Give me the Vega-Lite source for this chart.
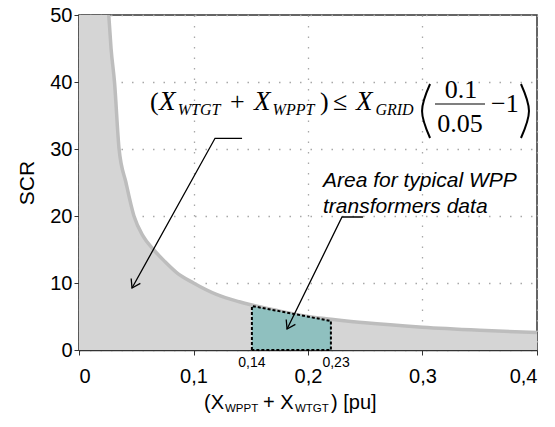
{
  "$schema": "https://vega.github.io/schema/vega-lite/v6.json",
  "width": 458,
  "height": 335,
  "autosize": "none",
  "padding": {"left": 79, "top": 15, "right": 18, "bottom": 77},
  "background": "white",
  "config": {
    "view": {"stroke": "#333", "strokeWidth": 1.5},
    "axis": {
      "labelFont": "Liberation Sans", "labelFontSize": 20, "labelColor": "#000",
      "domainColor": "#333", "domainWidth": 1.5, "tickColor": "#333", "tickSize": 5,
      "gridColor": "#a8a8a8", "gridDash": [1.5, 9], "gridWidth": 1.3, "zindex": 1,
      "titleFont": "Liberation Sans", "titleFontWeight": "normal", "titleColor": "#000"
    }
  },
  "datasets": {
    "curve": [
      {"x": 0, "scr": 50}, {"x": 0.026, "scr": 50}, {"x": 0.028, "scr": 45}, {"x": 0.031, "scr": 40},
      {"x": 0.035, "scr": 30}, {"x": 0.041, "scr": 25}, {"x": 0.048, "scr": 20}, {"x": 0.056, "scr": 17},
      {"x": 0.065, "scr": 15}, {"x": 0.075, "scr": 13.2}, {"x": 0.085, "scr": 11.6}, {"x": 0.1, "scr": 10},
      {"x": 0.12, "scr": 8.3}, {"x": 0.14, "scr": 7.2}, {"x": 0.15, "scr": 6.75}, {"x": 0.17, "scr": 6.0},
      {"x": 0.2, "scr": 5.0}, {"x": 0.22, "scr": 4.6}, {"x": 0.25, "scr": 4.05}, {"x": 0.3, "scr": 3.4},
      {"x": 0.35, "scr": 2.95}, {"x": 0.4, "scr": 2.6}
    ],
    "box": [{"x": 0.151, "scr": 6.57}, {"x": 0.22, "scr": 4.33}],
    "boxEdge": [
      {"x": 0.151, "scr": 0, "o": 1}, {"x": 0.151, "scr": 6.57, "o": 2}, {"x": 0.22, "scr": 4.33, "o": 3},
      {"x": 0.22, "scr": 0, "o": 4}, {"x": 0.151, "scr": 0, "o": 5}
    ],
    "arrows": [
      {"id": "a", "o": 1, "x": 0.1424, "scr": 31.6}, {"id": "a", "o": 2, "x": 0.1188, "scr": 31.6}, {"id": "a", "o": 3, "x": 0.0463, "scr": 9.25},
      {"id": "b", "o": 1, "x": 0.248, "scr": 19.85}, {"id": "b", "o": 2, "x": 0.2297, "scr": 19.85}, {"id": "b", "o": 3, "x": 0.1817, "scr": 3.13}
    ],
    "heads": [{"x": 0.0463, "scr": 9.25}, {"x": 0.1817, "scr": 3.13}],
    "eqRoman": [
      {"x": 0.062, "scr": 35.82, "t": "("}, {"x": 0.1319, "scr": 35.82, "t": "+"},
      {"x": 0.2105, "scr": 35.82, "t": ")"}, {"x": 0.2218, "scr": 35.82, "t": "≤"},
      {"x": 0.3598, "scr": 35.5, "t": "−1"}
    ],
    "eqX": [{"x": 0.0699, "scr": 35.82, "t": "X"}, {"x": 0.1528, "scr": 35.82, "t": "X"}, {"x": 0.2419, "scr": 35.82, "t": "X"}],
    "eqSub": [{"x": 0.0862, "scr": 35.07, "t": "WTGT"}, {"x": 0.1691, "scr": 35.07, "t": "WPPT"}, {"x": 0.2589, "scr": 35.07, "t": "GRID"}],
    "eqFrac": [{"x": 0.3336, "scr": 37.61, "t": "0.1"}, {"x": 0.3328, "scr": 32.54, "t": "0.05"}],
    "parens": [
      {"id": "l", "o": 1, "x": 0.3066, "scr": 39.7}, {"id": "l", "o": 2, "x": 0.2996, "scr": 35.67}, {"id": "l", "o": 3, "x": 0.3066, "scr": 31.64},
      {"id": "r", "o": 1, "x": 0.386, "scr": 39.7}, {"id": "r", "o": 2, "x": 0.393, "scr": 35.67}, {"id": "r", "o": 3, "x": 0.386, "scr": 31.64}
    ],
    "fracLine": [{"x": 0.3109, "x2": 0.3546, "scr": 36.72}],
    "xtMain": [{"x": 0.1092, "scr": -8.81, "t": "(X"}, {"x": 0.1607, "scr": -8.81, "t": "+ X"}, {"x": 0.2201, "scr": -8.81, "t": ") [pu]"}],
    "xtSub": [{"x": 0.1275, "scr": -9.25, "t": "WPPT"}, {"x": 0.1886, "scr": -9.25, "t": "WTGT"}],
    "boxLabels": [{"x": 0.151, "scr": -1.95, "t": "0,14"}, {"x": 0.2245, "scr": -1.95, "t": "0,23"}],
    "note": [{"x": 0.2131, "scr": 24.33, "t": ["Area for typical WPP", "transformers data"]}]
  },
  "encoding": {
    "x": {"field": "x", "type": "quantitative", "scale": {"domain": [0, 0.4], "nice": false, "zero": false},
      "axis": {"values": [0, 0.1, 0.2, 0.3, 0.4], "title": null, "labelPadding": 11,
        "labelExpr": "datum.value == 0 ? '0' : replace(format(datum.value, '.1f'), '.', ',')"}},
    "y": {"field": "scr", "type": "quantitative", "scale": {"domain": [0, 50], "nice": false, "zero": false},
      "axis": {"values": [0, 10, 20, 30, 40, 50], "title": "SCR", "titleFontSize": 21, "titlePadding": 12, "labelPadding": 2}}
  },
  "layer": [
    {"data": {"name": "curve"}, "mark": {"type": "area", "color": "#d5d5d5", "interpolate": "monotone"}},
    {"data": {"name": "curve"}, "transform": [{"filter": "datum.x > 0.02"}],
      "mark": {"type": "line", "color": "#bdbdbd", "strokeWidth": 3.5, "interpolate": "monotone"}},
    {"data": {"name": "box"}, "mark": {"type": "area", "color": "#8fc0bf", "opacity": 1}},
    {"data": {"name": "boxEdge"}, "mark": {"type": "line", "color": "#000", "strokeWidth": 2, "strokeDash": [3, 2]},
      "encoding": {"order": {"field": "o", "type": "quantitative"}}},
    {"data": {"name": "arrows"}, "mark": {"type": "line", "color": "#000", "strokeWidth": 1.3},
      "encoding": {"detail": {"field": "id"}, "order": {"field": "o", "type": "quantitative"}}},
    {"data": {"name": "heads"}, "mark": {"type": "point", "shape": "M-1,-0.65L0,0L-1,0.65", "angle": 118, "size": 256, "filled": false, "stroke": "#000", "strokeWidth": 1.3, "opacity": 1}},
    {"data": {"name": "eqRoman"}, "mark": {"type": "text", "font": "Liberation Serif", "fontSize": 26, "align": "left", "baseline": "alphabetic", "color": "#000"},
      "encoding": {"text": {"field": "t"}}},
    {"data": {"name": "eqX"}, "mark": {"type": "text", "font": "Liberation Serif", "fontStyle": "italic", "fontSize": 27, "align": "left", "baseline": "alphabetic", "color": "#000"},
      "encoding": {"text": {"field": "t"}}},
    {"data": {"name": "eqSub"}, "mark": {"type": "text", "font": "Liberation Serif", "fontStyle": "italic", "fontSize": 16, "align": "left", "baseline": "alphabetic", "color": "#000"},
      "encoding": {"text": {"field": "t"}}},
    {"data": {"name": "eqFrac"}, "mark": {"type": "text", "font": "Liberation Serif", "fontSize": 26, "align": "center", "baseline": "alphabetic", "color": "#000"},
      "encoding": {"text": {"field": "t"}}},
    {"data": {"name": "parens"}, "mark": {"type": "line", "color": "#000", "strokeWidth": 2, "interpolate": "natural"},
      "encoding": {"detail": {"field": "id"}, "order": {"field": "o", "type": "quantitative"}}},
    {"data": {"name": "fracLine"}, "mark": {"type": "rule", "color": "#000", "strokeWidth": 1.2},
      "encoding": {"x2": {"field": "x2"}}},
    {"data": {"name": "xtMain"}, "mark": {"type": "text", "font": "Liberation Sans", "fontSize": 20, "align": "left", "baseline": "alphabetic", "color": "#000"},
      "encoding": {"text": {"field": "t"}}},
    {"data": {"name": "xtSub"}, "mark": {"type": "text", "font": "Liberation Sans", "fontSize": 11.5, "align": "left", "baseline": "alphabetic", "color": "#000"},
      "encoding": {"text": {"field": "t"}}},
    {"data": {"name": "boxLabels"}, "mark": {"type": "text", "font": "Liberation Sans", "fontSize": 14, "align": "center", "baseline": "middle", "color": "#000"},
      "encoding": {"text": {"field": "t"}}},
    {"data": {"name": "note"}, "mark": {"type": "text", "font": "Liberation Sans", "fontStyle": "italic", "fontSize": 21, "lineHeight": 26, "align": "left", "baseline": "alphabetic", "color": "#000"},
      "encoding": {"text": {"field": "t"}}}
  ]
}
